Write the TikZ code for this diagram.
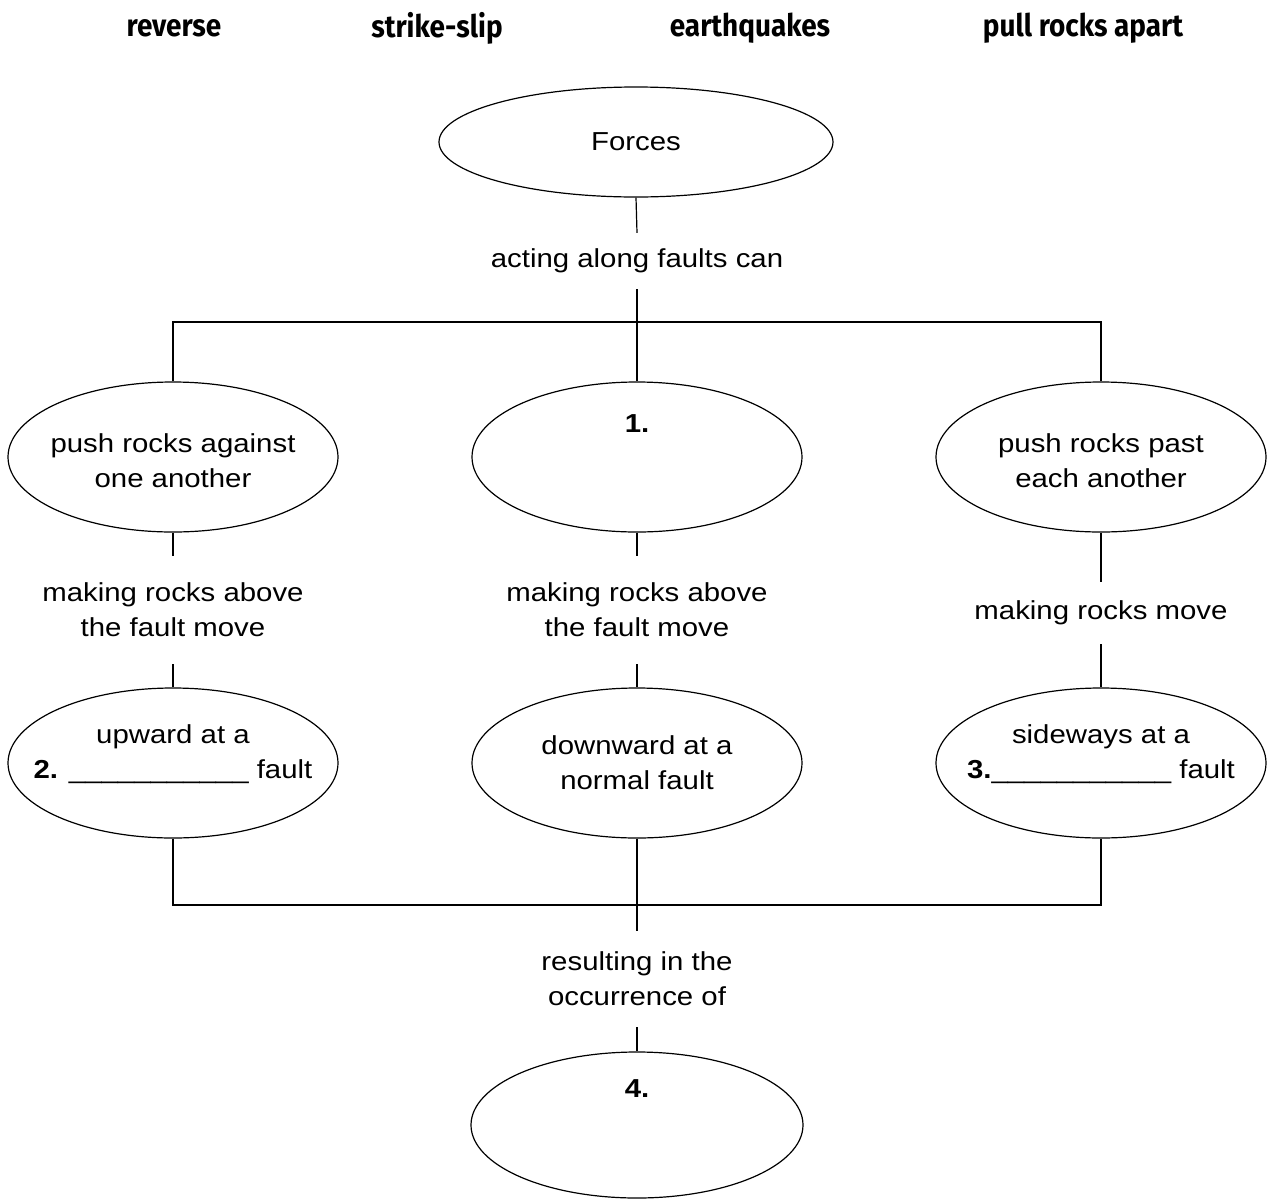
\documentclass[tikz,border=0pt]{standalone}
\usepackage{fontspec}
\setmainfont{Liberation Sans}[FakeStretch=1.13]
\newfontfamily\headfont{Fira Sans}
\usetikzlibrary{shapes.geometric}
\newcommand\myblank{\_\_\_\_\_\_\_\_\_\_\_}
\begin{document}
\begin{tikzpicture}[x=1pt,y=-1pt,
  every node/.style={font=\fontsize{26}{35}\selectfont},
  oval/.style={draw, ellipse, line width=1.2pt, inner sep=0pt, minimum width=330pt, minimum height=150pt},
  lbl/.style={align=center, inner sep=0pt},
  onel/.style={lbl, minimum height=56pt},
  twol/.style={lbl, minimum height=108pt},
  head/.style={font=\headfont\bfseries\fontsize{31}{36}\selectfont, inner sep=0pt},
  conn/.style={line width=1.2pt}]
\useasboundingbox (0,0) rectangle (1275,1200);

% word bank
\node[head] (h1) at (174,28) {\scalebox{0.9}[1]{reverse}};
\node[head] (h2) at (437,28) {\scalebox{0.9}[1]{strike-slip}};
\node[head] (h3) at (750,28) {\scalebox{0.9}[1]{earthquakes}};
\node[head] (h4) at (1083,28) {\scalebox{0.9}[1]{pull rocks apart}};

% ovals
\node[oval, minimum width=394pt, minimum height=110pt] (forces) at (636,142) {};
\node[oval] (p1) at (173,457) {};
\node[oval] (p2) at (637,457) {};
\node[oval] (p3) at (1101,457) {};
\node[oval] (b1) at (173,763) {};
\node[oval] (b2) at (637,763) {};
\node[oval] (b3) at (1101,763) {};
\node[oval, minimum width=332pt, minimum height=146pt] (q4) at (637,1125) {};

% texts in ovals
\node[lbl] (tforces) at (636,142) {Forces};
\node[lbl] (tp1) at (173,461) {push rocks against\\one another};
\node[lbl] (tp2) at (637,424) {\textbf{1.}};
\node[lbl] (tp3) at (1101,461) {push rocks past\\each another};
\node[lbl] (tb1) at (173,754) {upward at a\\\textbf{2.} \myblank{} fault};
\node[lbl] (tb2) at (637,763) {downward at a\\normal fault};
\node[lbl] (tb3) at (1101,754) {sideways at a\\\textbf{3.}\myblank{} fault};
\node[lbl] (tq4) at (637,1089) {\textbf{4.}};

% linking phrases
\node[onel] (acting) at (637,261) {acting along faults can};
\node[twol] (m1) at (173,610) {making rocks above\\the fault move};
\node[twol] (m2) at (637,610) {making rocks above\\the fault move};
\node[onel, minimum height=62pt] (m3) at (1101,613) {making rocks move};
\node[lbl, minimum height=96pt] (res) at (637,979) {resulting in the\\occurrence of};

% junctions
\coordinate (tl) at (173,322);
\coordinate (tr) at (1101,322);
\coordinate (bl) at (173,905);
\coordinate (br) at (1101,905);

% connectors
\draw[conn] (forces.south) -- (acting.north);
\draw[conn] (acting.south) -- (p2.north);
\draw[conn] (p1.north) -- (tl) -- (tr) -- (p3.north);
\draw[conn] (p1.south) -- (m1.north);
\draw[conn] (m1.south) -- (b1.north);
\draw[conn] (p2.south) -- (m2.north);
\draw[conn] (m2.south) -- (b2.north);
\draw[conn] (p3.south) -- (m3.north);
\draw[conn] (m3.south) -- (b3.north);
\draw[conn] (b1.south) -- (bl) -- (br) -- (b3.south);
\draw[conn] (b2.south) -- (res.north);
\draw[conn] (res.south) -- (q4.north);
\end{tikzpicture}
\end{document}
